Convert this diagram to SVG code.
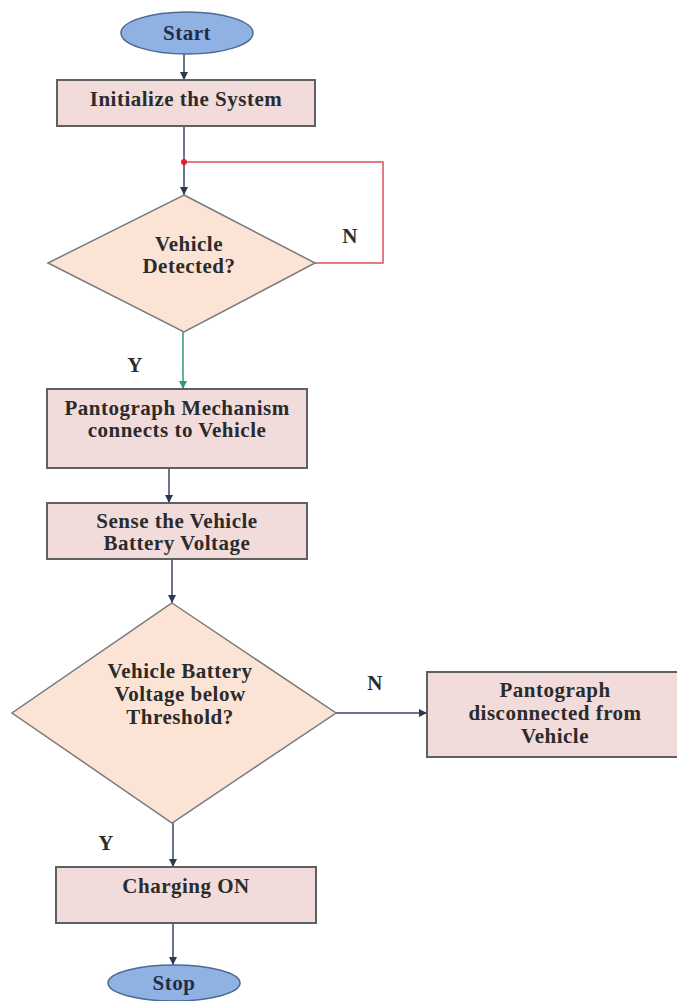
<svg xmlns="http://www.w3.org/2000/svg" width="677" height="1001" viewBox="0 0 677 1001">
<defs>
<style>
.t{font-family:"Liberation Serif","Times New Roman",serif;font-weight:bold;font-size:21px;letter-spacing:0.5px;fill:#2b2b2b;text-anchor:middle}
.term{fill:#8fb2e2;stroke:#4c6a94;stroke-width:1.5}
.box{fill:#f2dcdb;stroke:#606060;stroke-width:2}
.dia{fill:#fbe4d5;stroke:#7a7a7a;stroke-width:1.5}
.c{fill:none;stroke:#3b4660;stroke-width:1.5}
</style>
<marker id="ah" markerUnits="userSpaceOnUse" markerWidth="10" markerHeight="10" refX="8" refY="5" orient="auto">
<path d="M0,1 L8,5 L0,9 Z" fill="#2e3850"/>
</marker>
<marker id="ahg" markerUnits="userSpaceOnUse" markerWidth="10" markerHeight="10" refX="8" refY="5" orient="auto">
<path d="M0,1 L8,5 L0,9 Z" fill="#2f9a7a"/>
</marker>
</defs>
<rect width="677" height="1001" fill="#ffffff"/>
<g id="connectors">
<line class="c" x1="184" y1="54" x2="184" y2="80" marker-end="url(#ah)"/>
<line class="c" x1="184" y1="126" x2="184" y2="195" marker-end="url(#ah)"/>
<polyline fill="none" stroke="#d8525e" stroke-width="1.5" points="315,263 383,263 383,162 184,162"/>
<circle cx="184" cy="162" r="3" fill="#e0202e"/>
<line fill="none" stroke="#2f9a7a" stroke-width="1.5" x1="183" y1="332" x2="183" y2="389" marker-end="url(#ahg)"/>
<line class="c" x1="169" y1="468" x2="169" y2="503" marker-end="url(#ah)"/>
<line class="c" x1="172" y1="559" x2="172" y2="603" marker-end="url(#ah)"/>
<line class="c" x1="336" y1="713" x2="427" y2="713" marker-end="url(#ah)"/>
<line class="c" x1="173" y1="823" x2="173" y2="867" marker-end="url(#ah)"/>
<line class="c" x1="173" y1="923" x2="173" y2="965" marker-end="url(#ah)"/>
<text class="t" x="350" y="243">N</text>
<text class="t" x="135" y="372">Y</text>
<text class="t" x="375" y="690">N</text>
<text class="t" x="106" y="850">Y</text>
</g>
<g id="start">
<ellipse class="term" cx="187" cy="33" rx="66" ry="21"/>
<text class="t" x="187" y="40" style="fill:#1f2d48">Start</text>
</g>
<g id="init">
<rect class="box" x="57" y="80" width="258" height="46"/>
<text class="t" x="186" y="106">Initialize the System</text>
</g>
<g id="detect">
<polygon class="dia" points="184,195 315,263 184,332 48,263"/>
<text class="t" x="189" y="251">Vehicle</text>
<text class="t" x="189" y="273">Detected?</text>
</g>
<g id="pantograph">
<rect class="box" x="47" y="389" width="260" height="79"/>
<text class="t" x="177" y="415">Pantograph Mechanism</text>
<text class="t" x="177" y="437">connects to Vehicle</text>
</g>
<g id="sense">
<rect class="box" x="47" y="503" width="260" height="56"/>
<text class="t" x="177" y="528">Sense the Vehicle</text>
<text class="t" x="177" y="550">Battery Voltage</text>
</g>
<g id="threshold">
<polygon class="dia" points="172,603 336,713 172,823 12,713"/>
<text class="t" x="180" y="678">Vehicle Battery</text>
<text class="t" x="180" y="701">Voltage below</text>
<text class="t" x="180" y="724">Threshold?</text>
</g>
<g id="disconnect">
<rect class="box" x="427" y="672" width="265" height="85"/>
<text class="t" x="555" y="697">Pantograph</text>
<text class="t" x="555" y="720">disconnected from</text>
<text class="t" x="555" y="743">Vehicle</text>
</g>
<g id="charging">
<rect class="box" x="56" y="867" width="260" height="56"/>
<text class="t" x="186" y="893">Charging ON</text>
</g>
<g id="stop">
<ellipse class="term" cx="174" cy="983" rx="66" ry="18"/>
<text class="t" x="174" y="990" style="fill:#1f2d48">Stop</text>
</g>
</svg>
